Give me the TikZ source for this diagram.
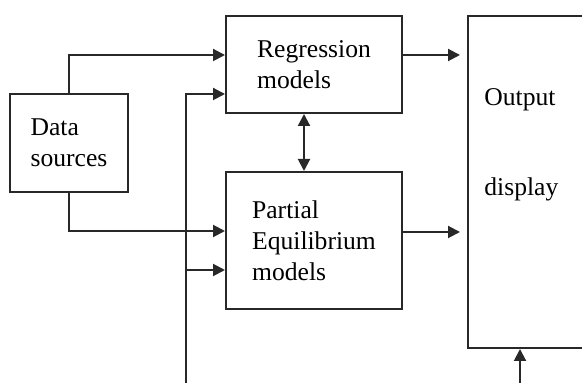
\documentclass[tikz,border=0pt]{standalone}
\usepackage{fontspec}
\setmainfont{Liberation Serif}
\usetikzlibrary{arrows.meta}
\definecolor{linegray}{RGB}{40,40,40}
\tikzset{
  box/.style={draw=linegray, line width=1pt, align=left, inner sep=0pt},
  arr/.style={draw=linegray, line width=1pt, -{Triangle[length=6pt,width=6pt]}},
}

\begin{document}
\begin{tikzpicture}[x=0.5pt,y=-0.5pt,font=\fontsize{12.8}{15.5}\selectfont]
  \useasboundingbox (0,0) rectangle (582,383);
  \clip (0,0) rectangle (582,383);

  % boxes
  \node[box,minimum width=59pt,minimum height=49pt] (data) at (69,143) {Data\\sources};
  \node[box,minimum width=88pt,minimum height=48.5pt] (regr) at (314,64.5) {Regression\\models};
  \node[box,minimum width=88pt,minimum height=68.5pt] (pe) at (314,240.5) {Partial\\Equilibrium\\models};
  \node[box,minimum width=100pt,minimum height=166pt] (out) at (568,182) {};
  \node[anchor=west,align=left,inner sep=0pt] (outtext) at (484,145) {Output\\[29.5pt]display};

  % inputs
  \coordinate (busin) at (186,390);
  \coordinate (busjoin) at (186,270);
  \coordinate (feedin) at (520,390);
  \draw[arr] (data.north) |- (regr.west |- 0,55);
  \draw[arr] (data.south) |- (pe.west |- 0,231);
  \draw[arr] (busin) |- (regr.west |- 0,94);
  \draw[arr] (busjoin) -- (pe.west |- busjoin);

  % to the output
  \draw[arr,shorten >=3.5pt] (regr.east |- 0,55) -- (out.west |- 0,55);
  \draw[arr,shorten >=3.5pt] (pe.east |- 0,232) -- (out.west |- 0,232);
  \draw[arr,{Triangle[length=6pt,width=6pt]}-{Triangle[length=6pt,width=6pt]}] (regr.south -| 304,0) -- (pe.north -| 304,0);
  \draw[arr] (feedin) -- (out.south -| feedin);
\end{tikzpicture}
\end{document}
